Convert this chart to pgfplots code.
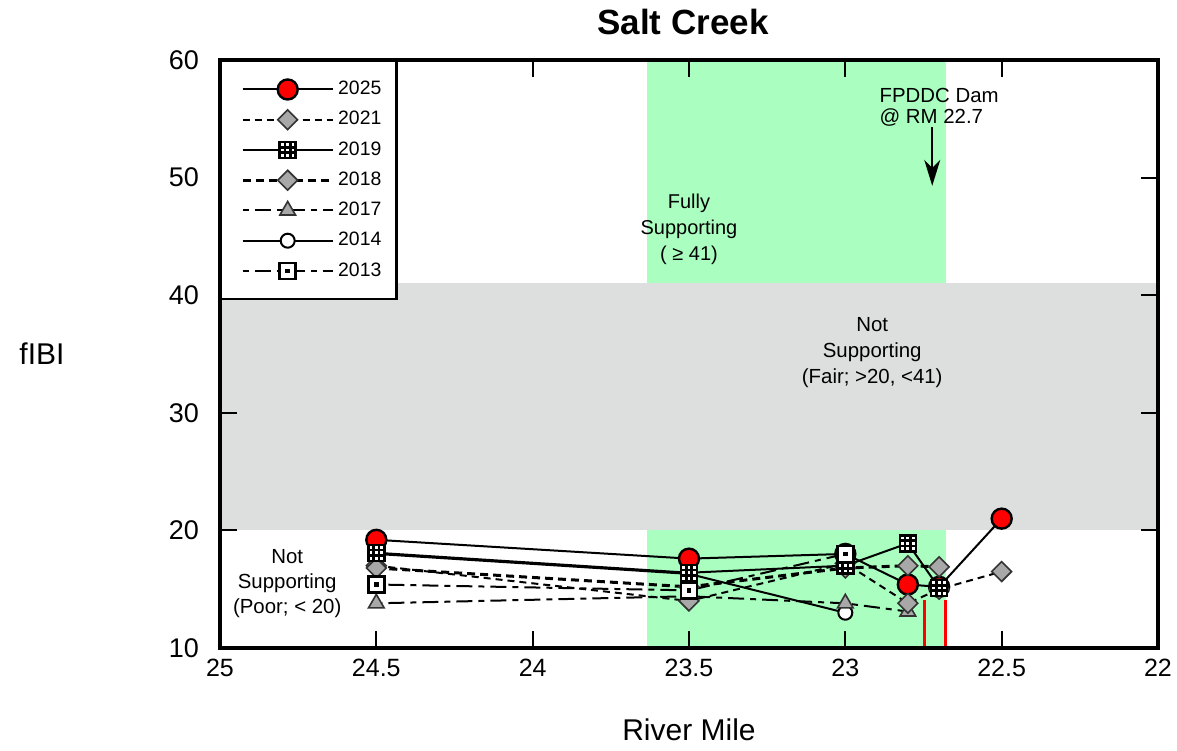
\documentclass[border=0pt]{standalone}
\usepackage{fontspec}
\setmainfont{Liberation Sans}
\usepackage{pgfplots}
\pgfplotsset{compat=1.18}
\usetikzlibrary{arrows.meta}
\definecolor{bandgreen}{RGB}{170,255,192}
\definecolor{bandgray}{RGB}{221,222,222}
\definecolor{mkgray}{RGB}{168,168,168}
\pgfdeclareplotmark{hashsq}{%
  \pgfpathrectangle{\pgfqpoint{-\pgfplotmarksize}{-\pgfplotmarksize}}{\pgfqpoint{2\pgfplotmarksize}{2\pgfplotmarksize}}%
  \pgfusepathqfillstroke
  \pgfpathmoveto{\pgfqpoint{-0.33\pgfplotmarksize}{-\pgfplotmarksize}}\pgfpathlineto{\pgfqpoint{-0.33\pgfplotmarksize}{\pgfplotmarksize}}%
  \pgfpathmoveto{\pgfqpoint{0.33\pgfplotmarksize}{-\pgfplotmarksize}}\pgfpathlineto{\pgfqpoint{0.33\pgfplotmarksize}{\pgfplotmarksize}}%
  \pgfpathmoveto{\pgfqpoint{-\pgfplotmarksize}{-0.33\pgfplotmarksize}}\pgfpathlineto{\pgfqpoint{\pgfplotmarksize}{-0.33\pgfplotmarksize}}%
  \pgfpathmoveto{\pgfqpoint{-\pgfplotmarksize}{0.33\pgfplotmarksize}}\pgfpathlineto{\pgfqpoint{\pgfplotmarksize}{0.33\pgfplotmarksize}}%
  \pgfusepathqstroke}
\pgfdeclareplotmark{dotsq}{%
  \pgfpathrectangle{\pgfqpoint{-\pgfplotmarksize}{-\pgfplotmarksize}}{\pgfqpoint{2\pgfplotmarksize}{2\pgfplotmarksize}}%
  \pgfusepathqfillstroke
  \begin{pgfscope}%
  \pgfsetfillcolor{black}%
  \pgfpathrectangle{\pgfqpoint{-0.3\pgfplotmarksize}{-0.3\pgfplotmarksize}}{\pgfqpoint{0.6\pgfplotmarksize}{0.6\pgfplotmarksize}}%
  \pgfusepathqfill
  \end{pgfscope}}
\tikzset{
  s2025/.style={black, line width=1pt, mark=*, mark size=5pt, mark options={fill=red, draw=black, line width=1.2pt, solid}},
  s2021/.style={black, line width=1pt, dash pattern=on 3.5pt off 2.5pt, mark=square*, mark size=3.5pt, mark options={rotate=45, fill=mkgray, draw=black!80, line width=0.8pt, solid}},
  s2019/.style={black, line width=1pt, mark=hashsq, mark size=4pt, mark options={fill=white, draw=black, line width=1.2pt, solid}},
  s2018/.style={black, line width=1.5pt, dash pattern=on 4pt off 2.5pt, mark=square*, mark size=3.5pt, mark options={rotate=45, fill=mkgray, draw=black!80, line width=0.8pt, solid}},
  s2017/.style={black, line width=1pt, dash pattern=on 3pt off 3pt on 8pt off 3pt, mark=triangle*, mark size=4.5pt, mark options={fill=mkgray, draw=black!80, line width=0.8pt, solid}},
  s2014/.style={black, line width=1pt, mark=*, mark size=3.5pt, mark options={fill=white, draw=black, line width=1pt, solid}},
  s2013/.style={black, line width=1pt, dash pattern=on 3pt off 3pt on 8pt off 3pt, mark=dotsq, mark size=4pt, mark options={fill=white, draw=black, line width=1.2pt, solid}},
}
\begin{document}
\begin{tikzpicture}
\begin{axis}[
  name=ax,
  scale only axis, width=469pt, height=294pt,
  x dir=reverse, xmin=22, xmax=25, ymin=10, ymax=60,
  xtick={22,22.5,23,23.5,24,24.5,25}, ytick={10,20,30,40,50,60},
  tick align=inside, major tick length=8.5pt,
  every tick/.style={black, line width=1pt},
  axis line style={line width=1.6pt},
  axis on top,
  ticklabel style={font=\fontsize{12.5}{14}\selectfont},
  yticklabel style={font=\fontsize{13.5}{15}\selectfont, xshift=-7pt},
  /pgf/number format/assume math mode=true,
  xticklabel style={yshift=-2pt},
  legend style={at={(0,1)}, anchor=north west, draw=black, line width=1.2pt,
    fill=white, font=\fontsize{9.7}{10.5}\selectfont, inner xsep=5.5pt, inner ysep=8pt,
    row sep=2.85pt},
  legend cell align=left,
  legend image code/.code={\path (-4.5pt,0pt); \draw[mark repeat=2,mark phase=2,#1] plot coordinates {(0pt,0pt)(22.5pt,0pt)(45pt,0pt)};},
]
\addplot[fill=bandgreen, draw=none, forget plot] coordinates {(23.634,10) (23.634,60) (22.678,60) (22.678,10)} -- cycle;
\addplot[fill=bandgray, draw=none, forget plot] coordinates {(25,20) (25,41) (22,41) (22,20)} -- cycle;
\addplot[red, line width=1.5pt, forget plot] coordinates {(22.748,10) (22.748,14.1)};
\addplot[red, line width=1.5pt, forget plot] coordinates {(22.681,10) (22.681,14.1)};

% drawing order (bottom to top)
\addplot[s2025, forget plot] coordinates {(24.5,19.2) (23.5,17.6) (23.0,18.0) (22.8,15.4) (22.7,15.2) (22.5,21.0)};
\addplot[s2014, forget plot] coordinates {(24.5,18.0) (23.5,16.3) (23.0,13.0)};
\addplot[s2017, forget plot] coordinates {(24.5,13.8) (23.5,14.4) (23.0,13.8) (22.8,13.1)};
\addplot[s2021, forget plot] coordinates {(24.5,17.0) (23.5,14.0) (23.0,17.2) (22.8,13.8) (22.7,15.0) (22.5,16.5)};
\addplot[s2018, forget plot] coordinates {(24.5,16.8) (23.5,15.2) (23.0,16.8) (22.8,17.0) (22.7,16.9)};
\addplot[s2019, forget plot] coordinates {(24.5,18.1) (23.5,16.4) (23.0,17.0) (22.8,18.9) (22.7,15.1)};
\addplot[s2013, forget plot] coordinates {(24.5,15.4) (23.5,14.9) (23.0,18.0)};

\addlegendimage{s2025}\addlegendentry{2025}
\addlegendimage{s2021}\addlegendentry{2021}
\addlegendimage{s2019}\addlegendentry{2019}
\addlegendimage{s2018}\addlegendentry{2018}
\addlegendimage{s2017}\addlegendentry{2017}
\addlegendimage{s2014}\addlegendentry{2014}
\addlegendimage{s2013}\addlegendentry{2013}

\node[align=center, font=\fontsize{10}{13}\selectfont] at (axis cs:23.5,45.6) {Fully\\Supporting\\( ≥ 41)};
\node[align=center, font=\fontsize{10.2}{13}\selectfont] at (axis cs:22.914,35.1) {Not\\Supporting\\(Fair; >20, <41)};
\node[align=center, font=\fontsize{10.2}{12.5}\selectfont] at (axis cs:24.785,15.5) {Not\\Supporting\\(Poor; < 20)};
\node[align=left, font=\fontsize{10.2}{10.5}\selectfont] at (axis cs:22.70,56.0) {FPDDC Dam\\@ RM 22.7};
\draw[-{Stealth[length=13pt,width=8pt,inset=4pt]}, line width=1pt] (axis cs:22.722,54.3) -- (axis cs:22.722,49.3);
\end{axis}
\node[font=\bfseries\fontsize{17.5}{20}\selectfont] at ([yshift=19pt,xshift=-3pt]ax.north) {Salt Creek};
\node[font=\fontsize{15}{17}\selectfont] at ([yshift=-41pt]ax.south) {River Mile};
\node[font=\fontsize{15}{17}\selectfont] at ([xshift=-89pt]ax.west) {fIBI};
\pgfresetboundingbox
\useasboundingbox ([xshift=-110pt,yshift=-51pt]ax.south west) rectangle ++(588.5pt,375pt);
\end{tikzpicture}
\end{document}
